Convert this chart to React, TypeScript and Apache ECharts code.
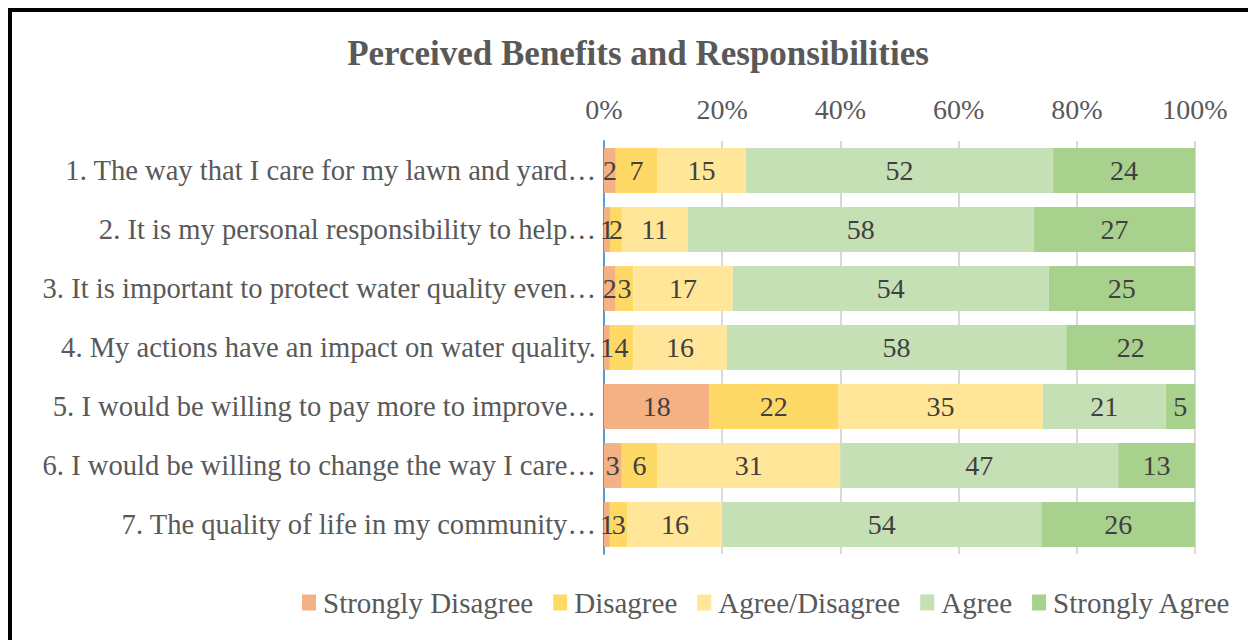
import React, { useEffect, useRef } from "react";
import * as echarts from "echarts";

const categories = [
  "1. The way that I care for my lawn and yard…",
  "2. It is my personal responsibility to help…",
  "3. It is important to protect water quality even…",
  "4. My actions have an impact on water quality.",
  "5. I would be willing to pay more to improve…",
  "6. I would be willing to change the way I care…",
  "7. The quality of life in my community…",
];

const seriesNames = ["Strongly Disagree", "Disagree", "Agree/Disagree", "Agree", "Strongly Agree"];
const strongDisagree = [2, 1, 2, 1, 18, 3, 1];
const disagree = [7, 2, 3, 4, 22, 6, 3];
const neutral = [15, 11, 17, 16, 35, 31, 16];
const agree = [52, 58, 54, 58, 21, 47, 54];
const strongAgree = [24, 27, 25, 22, 5, 13, 26];
const colors = ["#F4B183", "#FFD966", "#FFE699", "#C5E0B4", "#A9D18E"];
const xTicks = [0, 20, 40, 60, 80, 100];

const FONT = "'Liberation Serif', 'Times New Roman', serif";

export default function App() {
  const ref = useRef<HTMLDivElement>(null);
  useEffect(() => {
    document.body.style.margin = "0";
    if (!ref.current) return;
    const chart = echarts.init(ref.current, undefined, { renderer: "svg" });
    const raw = [strongDisagree, disagree, neutral, agree, strongAgree];
    const totals = categories.map((_, i) => raw.reduce((s, arr) => s + arr[i], 0));
    chart.setOption({
      animation: false,
      backgroundColor: "#ffffff",
      textStyle: { fontFamily: FONT },
      title: {
        text: "Perceived Benefits and Responsibilities",
        left: 633,
        textAlign: "center",
        top: 31,
        textStyle: { fontFamily: FONT, fontSize: 35, fontWeight: "bold", color: "#595959" },
      },
      legend: {
        top: 583,
        left: 297,
        icon: "rect",
        itemWidth: 14,
        itemHeight: 16,
        itemGap: 20,
        textStyle: { fontFamily: FONT, fontSize: 29, color: "#595959", padding: [0, 0, 0, 2] },
        data: seriesNames,
      },
      grid: { left: 604, right: 53, top: 141, bottom: 86, containLabel: false },
      xAxis: {
        type: "value",
        position: "top",
        min: 0,
        max: 100,
        interval: 20,
        axisLine: { show: false },
        axisTick: { show: false },
        axisLabel: {
          formatter: (v: number) => (xTicks.includes(v) ? v + "%" : ""),
          fontFamily: FONT,
          fontSize: 28,
          color: "#595959",
          margin: 18,
        },
        splitLine: { lineStyle: { color: "#D9D9D9", width: 2 } },
      },
      yAxis: {
        type: "category",
        data: categories,
        inverse: true,
        axisLine: { show: true, lineStyle: { color: "#5B9BD5", width: 2 } },
        axisTick: { show: false },
        axisLabel: { fontFamily: FONT, fontSize: 28.6, color: "#595959", margin: 8 },
      },
      series: raw.map((arr, k) => ({
        name: seriesNames[k],
        type: "bar",
        stack: "total",
        barCategoryGap: "24%",
        itemStyle: { color: colors[k] },
        label: {
          show: true,
          position: "inside",
          fontFamily: FONT,
          fontSize: 28,
          color: "#404040",
          formatter: (p: any) => String(arr[p.dataIndex]),
        },
        data: arr.map((v, i) => (v / totals[i]) * 100),
      })),
      graphic: [
        {
          type: "rect",
          shape: { x: 10, y: 10, width: 1400, height: 800 },
          style: { fill: "none", stroke: "#000000", lineWidth: 4 },
          z: 100,
        },
      ],
    });
    return () => chart.dispose();
  }, []);
  return <div ref={ref} style={{ width: 1248, height: 640 }} />;
}
